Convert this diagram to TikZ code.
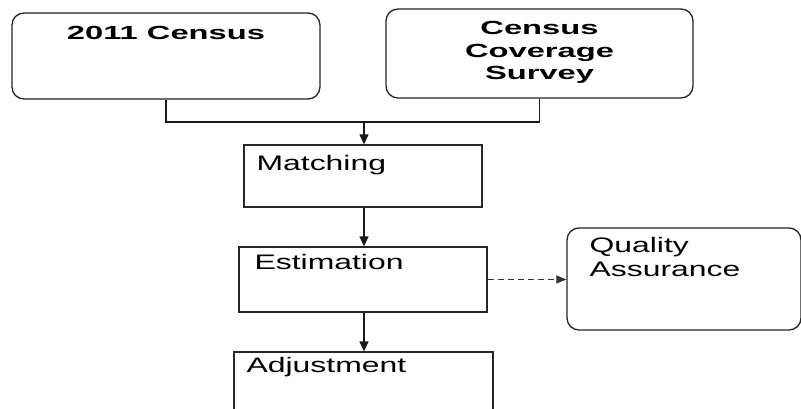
\documentclass[tikz,border=0pt]{standalone}
\usepackage{fontspec}
\setmainfont{Liberation Sans}
\newfontfamily\regfont[FakeStretch=1.52]{Liberation Sans}
\newfontfamily\boldfont[FakeStretch=1.72]{Liberation Sans Bold}
\usetikzlibrary{arrows.meta,calc}
\tikzset{
  rbox/.style={draw=black!85, line width=1.3pt, rounded corners=12pt, inner sep=0pt},
  sbox/.style={draw=black!85, line width=1.3pt, inner sep=0pt},
  conn/.style={draw=black!90, line width=1.3pt},
  arr/.style={conn, -{Triangle[length=10pt,width=9pt]}},
  darr/.style={draw=black!80, line width=1.2pt, dash pattern=on 6pt off 4pt, -{Triangle[length=10pt,width=8pt]}},
  btext/.style={font=\boldfont\fontsize{19}{22.5}\selectfont, align=center, inner sep=0pt},
  rtext/.style={font=\regfont\fontsize{21}{24}\selectfont, align=left, inner sep=0pt, anchor=base west}
}
\begin{document}
\begin{tikzpicture}[x=1pt,y=-1pt]
\useasboundingbox (0,0) rectangle (801,409);
\clip (0,0) rectangle (801,409);
\fill[white] (0,0) rectangle (801,409);
% boxes
\node[rbox, minimum width=308pt, minimum height=86pt] (census) at (166,56) {};
\node[rbox, minimum width=307pt, minimum height=89pt] (ccs) at (539.5,53.5) {};
\node[sbox, minimum width=238pt, minimum height=62pt] (match) at (363,176) {};
\node[sbox, minimum width=248pt, minimum height=65pt] (est) at (363,279.5) {};
\node[rbox, minimum width=234pt, minimum height=102pt] (qa) at (684,279) {};
\node[sbox, minimum width=259pt, minimum height=80pt] (adj) at (363.5,392) {};
% texts
\node[btext, anchor=base] (censustxt) at ($(census.north)+(0,27.5)$) {2011 Census};
\node[btext, anchor=base] (ccstxt1) at ($(ccs.north)+(0,26.5)$) {Census};
\node[btext, anchor=base] (ccstxt2) at ($(ccs.north)+(0,49)$) {Coverage};
\node[btext, anchor=base] (ccstxt3) at ($(ccs.north)+(0,71.5)$) {Survey};
\node[rtext] (matchtxt) at ($(match.north west)+(13,26)$) {Matching};
\node[rtext] (esttxt) at ($(est.north west)+(16,23)$) {Estimation};
\node[rtext] (qatxt1) at ($(qa.north west)+(23,25)$) {Quality};
\node[rtext] (qatxt2) at ($(qa.north west)+(23,49)$) {Assurance};
\node[rtext] (adjtxt) at ($(adj.north west)+(13,21)$) {Adjustment};
% connectors
\coordinate (join) at (364,122);
\draw[conn] (census.south) |- (join) -| (ccs.south);
\draw[arr] (join) -- (join |- match.north);
\draw[arr] (match.south -| join) -- (est.north -| join);
\draw[arr] (est.south -| join) -- (adj.north -| join);
\draw[darr] (est.east) -- (qa.west |- est.east);
\end{tikzpicture}
\end{document}
